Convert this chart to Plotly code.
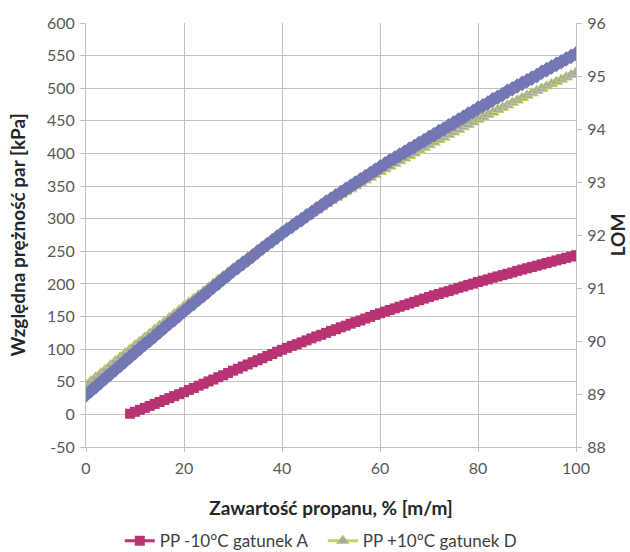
import plotly.graph_objects as go

# Propane content, % [m/m]
x_full = list(range(0, 101))
x_pink = list(range(9, 101))

# PP -10°C gatunek A [kPa], x = 9..100
pp_minus10_A = [
    1,
    4, 7, 10, 13, 16, 19, 22, 25, 28, 31, 34,
    37.5, 40.5, 44, 47, 50.5, 53.5, 57, 60, 63.5, 67,
    70, 73.5, 76.5, 80, 83, 86, 89.5, 92.5, 96, 99,
    102, 105, 107.5, 110.5, 113.5, 116.5, 119.5, 122, 125, 128,
    130.5, 133.5, 136, 139, 141.5, 144, 147, 149.5, 152.5, 155,
    157.5, 160, 162.5, 165, 167.5, 170, 172.5, 175, 177.5, 180,
    182.5, 184.5, 187, 189, 191.5, 194, 196, 198.5, 200.5, 203,
    205, 207, 209.5, 211.5, 213.5, 215.5, 217.5, 220, 222, 224,
    226, 228, 230, 232, 234, 236, 238, 240, 242, 244,
]

# PP +10°C gatunek D [kPa], x = 0..100
pp_plus10_D = [
    45, 51, 57, 63, 69, 75.5, 82, 88, 94, 100, 106,
    112, 118, 124, 130, 136, 142, 148, 154, 160, 166,
    172, 177.5, 183, 189, 195, 201, 207, 212.5, 218, 224,
    229.5, 235, 240.5, 246, 251.5, 257, 262.5, 268, 273.5, 279,
    284, 289, 293.5, 298.5, 303.5, 308.5, 313.5, 318, 323, 328,
    332.5, 337, 341, 345.5, 350, 354.5, 359, 363, 367.5, 372,
    376, 380, 384.5, 388.5, 392.5, 396.5, 400.5, 405, 409, 413,
    417, 421, 424.5, 428.5, 432.5, 436.5, 440.5, 444, 448, 452,
    455.5, 459.5, 463, 467, 470.5, 474, 478, 481.5, 485.5, 489,
    492.5, 496, 499.5, 503, 506.5, 510, 513.5, 517, 520.5, 524,
]

# LOM (right axis), x = 0..100
lom = [
    88.98, 89.06, 89.14, 89.22, 89.30, 89.38, 89.46, 89.54, 89.62, 89.70, 89.78,
    89.86, 89.94, 90.01, 90.09, 90.17, 90.25, 90.33, 90.40, 90.48, 90.56,
    90.64, 90.71, 90.79, 90.86, 90.94, 91.02, 91.09, 91.17, 91.24, 91.32,
    91.39, 91.46, 91.53, 91.60, 91.68, 91.75, 91.82, 91.89, 91.96, 92.03,
    92.10, 92.16, 92.23, 92.29, 92.36, 92.42, 92.49, 92.55, 92.62, 92.68,
    92.74, 92.80, 92.86, 92.92, 92.98, 93.04, 93.10, 93.16, 93.22, 93.28,
    93.34, 93.40, 93.45, 93.51, 93.56, 93.62, 93.67, 93.73, 93.78, 93.84,
    93.89, 93.95, 94.00, 94.06, 94.11, 94.17, 94.22, 94.28, 94.33, 94.39,
    94.44, 94.49, 94.55, 94.60, 94.65, 94.71, 94.76, 94.81, 94.86, 94.91,
    94.96, 95.01, 95.07, 95.12, 95.17, 95.22, 95.27, 95.32, 95.37, 95.42,
]

x_ticks = [0, 20, 40, 60, 80, 100]
y_ticks = list(range(-50, 601, 50))
y2_ticks = list(range(88, 97))

FONT = "Lato, 'Open Sans', sans-serif"
PINK = "#B83374"
BLUE = "#7377B3"
GREEN_LINE = "#C3D46A"
GREY = "#A6A6A6"
GRID = "#C0C0C0"
TICK = "#595959"
TITLE = "#262626"

fig = go.Figure()

fig.add_trace(go.Scatter(
    x=x_pink, y=pp_minus10_A, mode="lines+markers",
    name="PP -10°C gatunek A",
    line=dict(color=PINK, width=3),
    marker=dict(symbol="square", size=10, color=PINK, line=dict(width=0)),
))

fig.add_trace(go.Scatter(
    x=x_full, y=pp_plus10_D, mode="lines+markers",
    name="PP +10°C gatunek D",
    line=dict(color=GREEN_LINE, width=3),
    marker=dict(symbol="triangle-up", size=11, color=GREY,
                line=dict(color=GREEN_LINE, width=1)),
))

fig.add_trace(go.Scatter(
    x=x_full, y=lom, mode="lines+markers", yaxis="y2",
    name="LOM", showlegend=False,
    line=dict(color=BLUE, width=3),
    marker=dict(symbol="diamond", size=12, color=BLUE, line=dict(width=0)),
))

fig.update_layout(
    width=630, height=552,
    margin=dict(l=86, r=54, t=23, b=105, autoexpand=False),
    paper_bgcolor="white", plot_bgcolor="white",
    font=dict(family=FONT, color=TICK, size=16),
    showlegend=True,
    legend=dict(orientation="h", x=0.069, xref="paper", y=-0.222, yanchor="middle",
                xanchor="left", font=dict(size=17, color="#404040"),
                itemwidth=30, tracegroupgap=0,
                entrywidth=158, entrywidthmode="pixels"),
    xaxis=dict(
        range=[0, 100], tickvals=x_ticks, ticktext=[str(v) for v in x_ticks],
        showgrid=True, gridcolor=GRID, gridwidth=1,
        showline=True, linecolor=GRID, linewidth=1, mirror=False,
        ticks="outside", ticklen=4, tickcolor=GRID, zeroline=False,
        ticklabelstandoff=3, automargin=False,
        tickfont=dict(size=16, color=TICK),
        title=dict(text="<b>Zawartość propanu, % [m/m]</b>",
                   font=dict(size=19, color=TITLE), standoff=25),
    ),
    yaxis=dict(
        range=[-50, 600], tickvals=y_ticks, ticktext=[str(v) for v in y_ticks],
        showgrid=True, gridcolor=GRID, gridwidth=1,
        showline=True, linecolor=GRID, linewidth=1,
        ticks="outside", ticklen=5, tickcolor=GRID, zeroline=False,
        ticklabelstandoff=2, automargin=False,
        tickfont=dict(size=16, color=TICK),
        title=dict(text="<b>Względna prężność par [kPa]</b>",
                   font=dict(size=19, color=TITLE), standoff=16),
    ),
    yaxis2=dict(
        range=[88, 96], tickvals=y2_ticks, ticktext=[str(v) for v in y2_ticks],
        overlaying="y", side="right", showgrid=False,
        showline=True, linecolor=GRID, linewidth=1,
        ticks="outside", ticklen=5, tickcolor=GRID, zeroline=False,
        ticklabelstandoff=2, automargin=False,
        tickfont=dict(size=16, color=TICK),
        title=dict(text="<b>LOM</b>", font=dict(size=19, color=TITLE),
                   standoff=2),
    ),
)

fig.write_html(
    "out.html",
    config={"displayModeBar": False},
    post_script="document.body.style.margin='0';document.body.style.padding='0';",
)
